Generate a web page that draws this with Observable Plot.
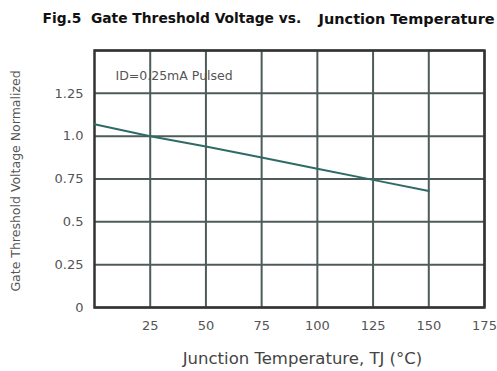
<!DOCTYPE html>
<html>
<head>
<meta charset="utf-8">
<script src="https://cdn.jsdelivr.net/npm/d3@7"></script>
<script src="https://cdn.jsdelivr.net/npm/@observablehq/plot@0.6"></script>
<style>
  html, body { margin: 0; padding: 0; background: #fff; }
</style>
</head>
<body>
<div id="chart"></div>
<script>
const temperature = [0, 25, 50, 75, 100, 125, 150];
const vthNormalized = [1.07, 1.0, 0.94, 0.875, 0.81, 0.745, 0.68];
const xTicks = [25, 50, 75, 100, 125, 150, 175];
const yTicks = [0, 0.25, 0.5, 0.75, 1.0, 1.25];
const yTickLabels = ["0", "0.25", "0.5", "0.75", "1.0", "1.25"];
const titleParts = ["Fig.5  Gate Threshold Voltage vs.", "Junction Temperature"];
const xLabel = "Junction Temperature, TJ (°C)";
const yLabel = "Gate Threshold Voltage Normalized";
const noteText = "ID=0.25mA Pulsed";

const data = temperature.map((t, i) => ({t, v: vthNormalized[i]}));
const font = "DejaVu Sans, Verdana, sans-serif";

const chart = Plot.plot({
  width: 497,
  height: 371,
  marginLeft: 94,
  marginRight: 13,
  marginTop: 50,
  marginBottom: 64,
  style: {fontFamily: font, background: "#fff", overflow: "visible"},
  x: {domain: [0, 175]},
  y: {domain: [0, 1.5]},
  marks: [
    Plot.gridX(xTicks, {stroke: "#4d5c5a", strokeOpacity: 1, strokeWidth: 2}),
    Plot.gridY(yTicks.concat([1.5]), {stroke: "#4d5c5a", strokeOpacity: 1, strokeWidth: 2}),
    Plot.frame({stroke: "#333", strokeWidth: 2.5}),
    Plot.line(data, {x: "t", y: "v", stroke: "#2f6b66", strokeWidth: 2}),
    Plot.axisX({ticks: xTicks, tickSize: 0, tickPadding: 13, fontSize: 13, fill: "#555", label: null}),
    Plot.axisY({ticks: yTicks, tickSize: 0, tickPadding: 11, fontSize: 13, fill: "#555", label: null,
      tickFormat: (d) => yTickLabels[yTicks.indexOf(d)]}),
    Plot.text([titleParts[0]], {frameAnchor: "top-left", dx: -52, dy: -37, textAnchor: "start",
      fontSize: 13.8, fontWeight: "bold", fill: "#111"}),
    Plot.text([titleParts[1]], {frameAnchor: "top-left", dx: 224, dy: -37, textAnchor: "start",
      fontSize: 14.5, fontWeight: "bold", fill: "#111"}),
    Plot.text([noteText], {frameAnchor: "top-left", dx: 21, dy: 21, textAnchor: "start",
      fontSize: 12.5, fill: "#555"}),
    Plot.text([xLabel], {frameAnchor: "bottom", dx: 13, dy: 56, fontSize: 16.5, fill: "#444"}),
    Plot.text([yLabel], {frameAnchor: "left", dx: -79, dy: 2, rotate: -90, textAnchor: "middle",
      fontSize: 12.5, fill: "#555"})
  ]
});
document.getElementById("chart").appendChild(chart);
</script>
</body>
</html>
